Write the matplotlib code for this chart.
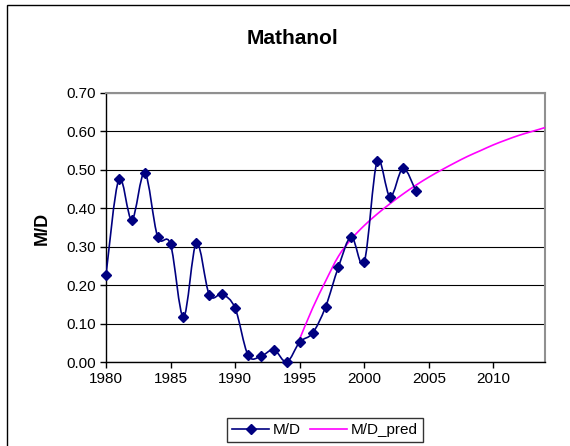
import numpy as np
import matplotlib
matplotlib.use('Agg')
import matplotlib.pyplot as plt
from matplotlib.path import Path
from matplotlib.patches import PathPatch, Rectangle
from matplotlib.lines import Line2D
from matplotlib.ticker import FormatStrFormatter

plt.rcParams['font.family'] = ['Liberation Sans', 'DejaVu Sans']

years = list(range(1980, 2005))
md = [0.227, 0.476, 0.370, 0.493, 0.326, 0.306, 0.117, 0.310, 0.175, 0.176,
      0.140, 0.018, 0.015, 0.032, 0.000, 0.052, 0.075, 0.143, 0.247, 0.326,
      0.260, 0.522, 0.430, 0.504, 0.445]

pred_years = list(range(1995, 2015))
md_pred = [0.060, 0.140, 0.210, 0.275, 0.320, 0.355, 0.385, 0.412, 0.437, 0.460,
           0.481, 0.500, 0.518, 0.535, 0.550, 0.565, 0.578, 0.590, 0.600, 0.610]


def smooth_path(x, y):
    # excel-style smoothed line: catmull-rom turned into bezier segments
    x = np.asarray(x, float)
    y = np.asarray(y, float)
    px = np.concatenate([[x[0]], x, [x[-1]]])
    py = np.concatenate([[y[0]], y, [y[-1]]])
    verts = [(x[0], y[0])]
    codes = [Path.MOVETO]
    for i in range(len(x) - 1):
        c1 = (px[i + 1] + (px[i + 2] - px[i]) / 6, py[i + 1] + (py[i + 2] - py[i]) / 6)
        c2 = (px[i + 2] - (px[i + 3] - px[i + 1]) / 6, py[i + 2] - (py[i + 3] - py[i + 1]) / 6)
        verts += [c1, c2, (x[i + 1], y[i + 1])]
        codes += [Path.CURVE4] * 3
    return Path(verts, codes)


W, H = 570, 446
fig = plt.figure(figsize=(W / 100, H / 100), dpi=100)
ax = fig.add_axes([106 / W, (H - 362) / H, (545 - 106) / W, (362 - 93) / H])

navy = '#000080'
magenta = '#FF00FF'

ax.add_patch(PathPatch(smooth_path(pred_years, md_pred), fill=False, ec=magenta, lw=1.2, zorder=3))
ax.add_patch(PathPatch(smooth_path(years, md), fill=False, ec=navy, lw=1.2, zorder=4))
ax.plot(years, md, ls='none', marker='D', ms=5.5, color=navy, zorder=5, clip_on=False)

ax.set_xlim(1980, 2014)
ax.set_ylim(0, 0.7)
ax.set_xticks(range(1980, 2015, 5))
ax.set_yticks(np.arange(0, 0.71, 0.1))
ax.yaxis.set_major_formatter(FormatStrFormatter('%.2f'))
ax.tick_params(direction='out', length=4, width=1, labelsize=11, colors='black', pad=3)
ax.grid(axis='y', color='black', lw=0.8)
ax.set_axisbelow(True)

for s in ['left', 'bottom']:
    ax.spines[s].set_color('black')
    ax.spines[s].set_linewidth(1)
for s in ['top', 'right']:
    ax.spines[s].set_color('#909090')
    ax.spines[s].set_linewidth(1.5)

fig.text(292 / W, 1 - 38 / H, 'Mathanol', ha='center', va='center', fontsize=15, fontweight='bold')
fig.text(42 / W, 1 - 228 / H, 'M/D', ha='center', va='center', rotation=90, fontsize=13, fontweight='bold')

handles = [Line2D([], [], color=navy, lw=1.2, marker='D', ms=5),
           Line2D([], [], color=magenta, lw=1.2)]
leg = fig.legend(handles, ['M/D', 'M/D_pred'], loc='center', ncol=2,
                 bbox_to_anchor=(325 / W, 1 - 430 / H), fontsize=11,
                 frameon=True, fancybox=False, edgecolor='black',
                 handlelength=2.4, columnspacing=0.6, borderpad=0.35, handletextpad=0.25)
leg.get_frame().set_linewidth(1)

fig.patches.append(Rectangle((7 / W, -0.1), 1.2, (H - 5) / H + 0.1, transform=fig.transFigure,
                             fill=False, ec='black', lw=1))

fig.savefig('out.png', dpi=100)
